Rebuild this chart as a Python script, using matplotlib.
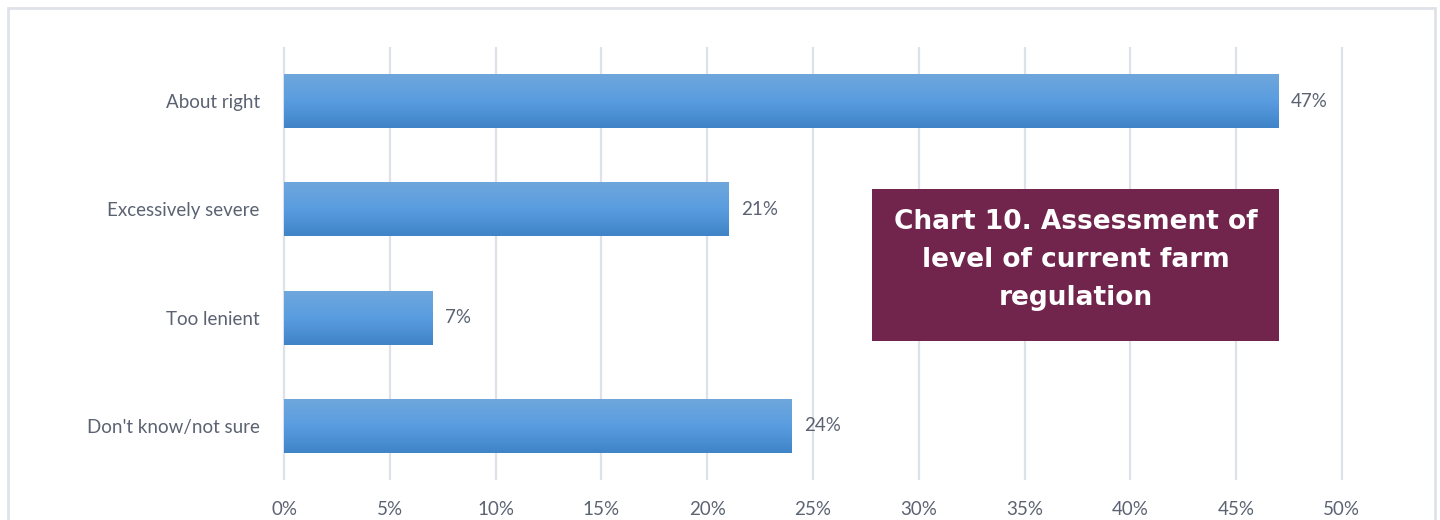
import numpy as np
import matplotlib.pyplot as plt
from matplotlib.colors import LinearSegmentedColormap
from matplotlib.patches import Rectangle

categories = ["About right", "Excessively severe", "Too lenient", "Don't know/not sure"]
shares = [47, 21, 7, 24]
xticks = [0, 5, 10, 15, 20, 25, 30, 35, 40, 45, 50]
title = "Chart 10. Assessment of\nlevel of current farm\nregulation"

TEXT = "#5b6372"
GRID = "#dde2ea"
plt.rcParams["font.family"] = ["Lato", "DejaVu Sans"]

fig = plt.figure(figsize=(14.4, 5.2), dpi=100)
ax = fig.add_axes([282 / 1440, 1 - 480 / 520, 1062 / 1440, 433 / 520])

# chart frame
fig.patches.append(Rectangle((8 / 1440, -0.05), 1427 / 1440, 1.05 - 8 / 520,
                             transform=fig.transFigure, fill=False,
                             edgecolor="#dfe3e9", lw=2))

y = np.arange(len(categories))
bars = ax.barh(y, shares, height=0.5, color="none", edgecolor="none", zorder=3)

# vertical gradient on each bar
grad = LinearSegmentedColormap.from_list("bar", ["#6fa7dc", "#5a9de0", "#3f84c7"])
g = np.linspace(0, 1, 64).reshape(-1, 1)
for b in bars:
    x0, y0 = b.get_x(), b.get_y()
    w, h = b.get_width(), b.get_height()
    im = ax.imshow(g, cmap=grad, aspect="auto", extent=(x0, x0 + w, y0 + h, y0),
                   origin="upper", zorder=3, interpolation="bilinear")
    im.set_clip_path(b)

for yi, v in zip(y, shares):
    ax.annotate(f"{v}%", (v, yi), xytext=(9, 0), textcoords="offset points",
                va="center", ha="left", fontsize=13.5, color=TEXT)

ax.set_xlim(-0.1, 50.1)
ax.set_ylim(len(categories) - 0.5, -0.5)
ax.set_xticks(xticks)
ax.set_xticklabels([f"{t}%" for t in xticks])
ax.set_yticks(y)
ax.set_yticklabels(categories)
ax.tick_params(length=0, labelsize=13.5, labelcolor=TEXT)
ax.tick_params(axis="x", pad=15)
ax.tick_params(axis="y", pad=16)
ax.grid(axis="x", color=GRID, lw=1.6, zorder=0)
ax.set_axisbelow(True)
for s in ax.spines.values():
    s.set_visible(False)

# title box
fig.patches.append(Rectangle((872 / 1440, 1 - 341 / 520), 407 / 1440, 152 / 520,
                             transform=fig.transFigure, facecolor="#72254c",
                             edgecolor="none", zorder=5))
fig.text((872 + 407 / 2) / 1440, 1 - 260 / 520, title, ha="center", va="center",
         color="white", fontsize=19, fontweight="bold", linespacing=1.6, zorder=6,
         family=["DejaVu Sans"])

fig.savefig("out.png", dpi=100)
